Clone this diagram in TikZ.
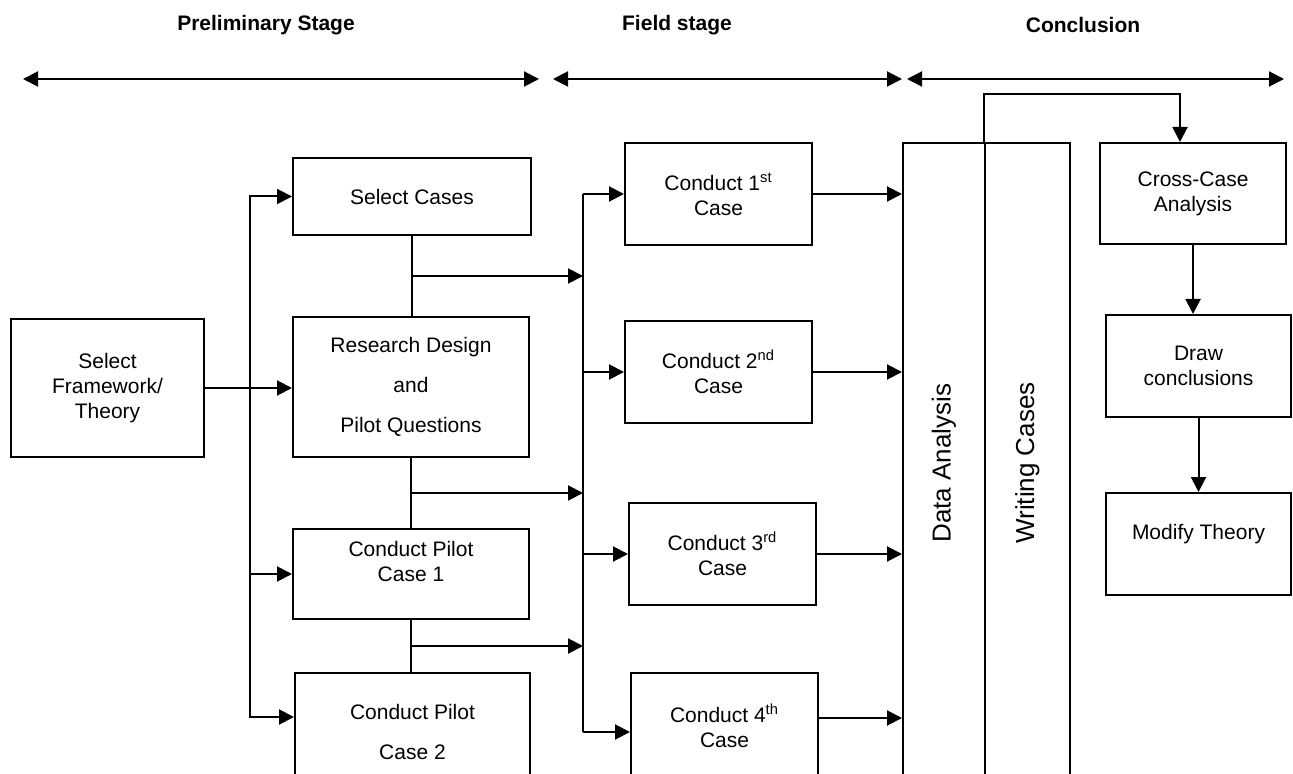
\documentclass[tikz,border=0pt]{standalone}
\usepackage{fontspec}
\setmainfont{Liberation Sans}
\usetikzlibrary{positioning, arrows.meta, calc}

\begin{document}
\begin{tikzpicture}[x=0.5pt, y=-0.5pt, line width=1pt,
  stagebox/.style={draw, align=center, inner sep=2pt,
                   font=\fontsize{10.5}{12.5}\selectfont},
  heading/.style={font=\fontsize{10.5}{12.5}\selectfont\bfseries},
  arrow/.style={-{Triangle[length=7.5pt, width=7.5pt]}},
  span/.style={{Triangle[length=7.5pt, width=7.5pt]}-{Triangle[length=7.5pt, width=7.5pt]}}
]
  \useasboundingbox (0,0) rectangle (1293,774);
  \clip (0,0) rectangle (1293,774);

  % stages
  \node[heading] (hpre)   at (266,25)  {Preliminary Stage};
  \node[heading] (hfield) at (677,25)  {Field stage};
  \node[heading] (hconc)  at (1083,25) {Conclusion};
  \coordinate (s1) at (23,79);   \coordinate (s2) at (539,79);
  \coordinate (s3) at (553,79);  \coordinate (s4) at (902,79);
  \coordinate (s5) at (907,79);  \coordinate (s6) at (1284,79);
  \draw[span] (s1) -- (s2);
  \draw[span] (s3) -- (s4);
  \draw[span] (s5) -- (s6);

  % preliminary stage
  \node[stagebox, minimum width=96.5pt, minimum height=69pt] (frame) at (107.5,388) {Select\\Framework/\\Theory};
  \node[stagebox, minimum width=119pt, minimum height=38.5pt] (selcase) at (412,196.5) {Select Cases};
  \node[stagebox, minimum width=118pt, minimum height=70pt] (design) at (411,387) {Research Design\\[7.5pt]and\\[7.5pt]Pilot Questions};
  \node[stagebox, minimum width=118pt, minimum height=45pt] (pilot1) at (411,574) {Conduct Pilot\\Case 1\\\mbox{}};
  \node[stagebox, minimum width=117.5pt, minimum height=59pt] (pilot2) at (412.5,732) {Conduct Pilot\\[7.5pt]Case 2};

  % field stage
  \node[stagebox, minimum width=93.5pt, minimum height=51pt] (c1) at (718.5,194) {Conduct 1\textsuperscript{st}\\Case};
  \node[stagebox, minimum width=93.5pt, minimum height=51pt] (c2) at (718.5,372) {Conduct 2\textsuperscript{nd}\\Case};
  \node[stagebox, minimum width=93.5pt, minimum height=51pt] (c3) at (722.5,554) {Conduct 3\textsuperscript{rd}\\Case};
  \node[stagebox, minimum width=93.5pt, minimum height=53pt] (c4) at (724.5,726) {Conduct 4\textsuperscript{th}\\Case};

  % conclusion
  \node[stagebox, minimum width=41pt, minimum height=320pt] (data) at (944,463) {\rotatebox{90}{\fontsize{13}{15}\selectfont Data Analysis}};
  \node[stagebox, minimum width=42.5pt, minimum height=320pt] (writing) at (1027.5,463) {\rotatebox{90}{\fontsize{13}{15}\selectfont Writing Cases}};
  \node[stagebox, minimum width=93pt, minimum height=50.5pt] (cross) at (1193,193.5) {Cross-Case\\Analysis};
  \node[stagebox, minimum width=92.5pt, minimum height=51pt] (concl) at (1198.5,366) {Draw\\conclusions};
  \node[stagebox, minimum width=92.5pt, minimum height=51pt] (modify) at (1198.5,544) {Modify Theory\\\mbox{}};

  % connectors
  \coordinate (lbus) at (250,388);
  \draw[arrow] (frame.east) -- (frame.east -| design.west);
  \draw[arrow] (lbus) |- (selcase.west);
  \draw[arrow] (lbus) |- (pilot1.west);
  \draw[arrow] (lbus) |- ($(pilot2.north west)+(0,45)$);

  \coordinate (ftop) at ($(c1.west)+(-41,0)$);
  \coordinate (fbot) at ($(c4.west)+(-47,6)$);
  \draw (ftop) -- (fbot);
  \draw[arrow] (ftop) -- (c1.west);
  \draw[arrow] (ftop |- c2.west) -- (c2.west);
  \draw[arrow] (ftop |- c3.west) -- (c3.west);
  \draw[arrow] (fbot) -- (fbot -| c4.west);

  \draw (selcase.south) -- (selcase.south |- design.north);
  \draw (design.south) -- (design.south |- pilot1.north);
  \draw (pilot1.south) -- (pilot1.south |- pilot2.north);
  \coordinate (m1) at ($(selcase.south)!0.5!(selcase.south |- design.north)$);
  \coordinate (m2) at ($(design.south)!0.5!(design.south |- pilot1.north)$);
  \coordinate (m3) at ($(pilot1.south)!0.5!(pilot1.south |- pilot2.north)$);
  \draw[arrow] (m1) -- (m1 -| ftop);
  \draw[arrow] (m2) -- (m2 -| ftop);
  \draw[arrow] (m3) -- (m3 -| ftop);

  \draw[arrow] (c1.east) -- (c1.east -| data.west);
  \draw[arrow] (c2.east) -- (c2.east -| data.west);
  \draw[arrow] (c3.east) -- (c3.east -| data.west);
  \draw[arrow] ($(c4.east)+(0,-8)$) -- ($(c4.east -| data.west)+(0,-8)$);

  \draw[arrow] (writing.north west) -- ++(0,-48) -| ($(cross.north)+(-13,0)$);
  \draw[arrow] (cross.south) -- (cross.south |- concl.north);
  \draw[arrow] (concl.south) -- (modify.north);
\end{tikzpicture}
\end{document}
